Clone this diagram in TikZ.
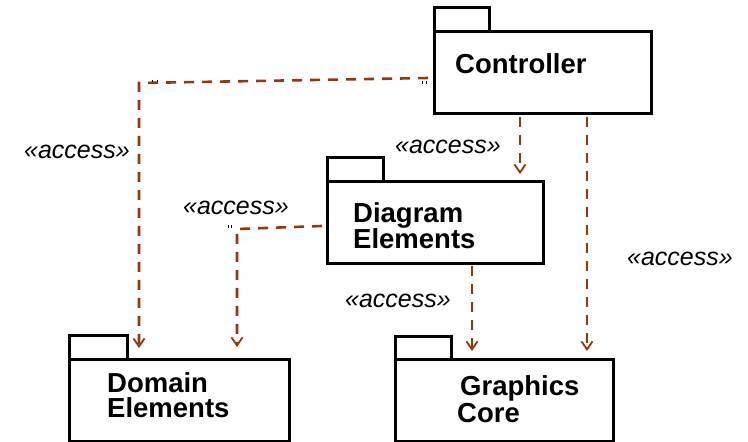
\documentclass[tikz,border=0pt]{standalone}
\usepackage{fontspec}
\setmainfont{Liberation Sans}
\usetikzlibrary{arrows.meta}
\definecolor{depcol}{RGB}{158,52,6}
\tikzset{
  pkgbody/.style={draw=black, line width=3pt, fill=white, inner sep=0pt, anchor=north west, minimum height=82pt},
  pkgtab/.style={draw=black, line width=3pt, fill=white, inner sep=0pt, anchor=north west, minimum height=24pt},
  pkgname/.style={font=\fontsize{27.5}{28}\selectfont\bfseries, inner sep=0pt, anchor=base west},
  acclabel/.style={font=\fontsize{25}{26}\selectfont\itshape, inner sep=0pt, anchor=base},
  depline/.style={draw=depcol, line width=2.6pt, dash pattern=on 10pt off 8pt,
    -{Straight Barb[length=8pt,width=11pt,line width=1.8pt]}},
  tick/.style={draw=black, line width=0.9pt}
}
\begin{document}
\begin{tikzpicture}[x=1pt,y=-1pt]
\useasboundingbox (0,0) rectangle (748,442);
% packages
\node[pkgtab, minimum width=55pt] (ctrlTab) at (433,6) {};
\node[pkgbody, minimum width=217pt] (ctrl) at (433,30) {};
\node[pkgtab, minimum width=56pt] (diagTab) at (326,156) {};
\node[pkgbody, minimum width=216pt] (diag) at (326,180) {};
\node[pkgtab, minimum width=58pt] (domTab) at (68,334) {};
\node[pkgbody, minimum width=220pt] (dom) at (68,358) {};
\node[pkgtab, minimum width=56pt, minimum height=23pt] (gfxTab) at (394,335) {};
\node[pkgbody, minimum width=218pt] (gfx) at (394,358) {};
% names
\node[pkgname] (ctrlName) at (455,73) {Controller};
\node[pkgname] (diagName1) at (353,222) {Diagram};
\node[pkgname] (diagName2) at (353,248) {Elements};
\node[pkgname] (domName1) at (107,392) {Domain};
\node[pkgname] (domName2) at (107,417) {Elements};
\node[pkgname] (gfxName1) at (460,395) {Graphics};
\node[pkgname] (gfxName2) at (457,422) {Core};
% connector points
\coordinate (a1s) at (428,78);
\coordinate (a1c) at (139,83);
\coordinate (a1e) at (139,348);
\coordinate (a2s) at (520,117);
\coordinate (a2e) at (520,174);
\coordinate (a3s) at (587,117);
\coordinate (a3e) at (587,351);
\coordinate (a4s) at (322,226);
\coordinate (a4c) at (237,229);
\coordinate (a4e) at (237,347);
\coordinate (a5s) at (472,266);
\coordinate (a5e) at (472,351);
% connectors
\draw[depline] (a1s) -- (a1c) -- (a1e);
\draw[depline] (a2s) -- (a2e);
\draw[depline] (a3s) -- (a3e);
\draw[depline] (a4s) -- (a4c) -- (a4e);
\draw[depline] (a5s) -- (a5e);
% labels
\node[acclabel] (l1) at (77,158) {«access»};
\node[acclabel] (l2) at (448,153) {«access»};
\node[acclabel] (l3) at (236,214) {«access»};
\node[acclabel] (l4) at (398,307) {«access»};
\node[acclabel] (l5) at (680,265) {«access»};
% small marks
\draw[tick] (152,79.5) -- (152,81.5) (157,79.5) -- (157,81.5);
\draw[tick] (422,81) -- (422,84) (426,81) -- (426,84);
\draw[tick] (228,225) -- (228,228) (231.5,225) -- (231.5,228);
\end{tikzpicture}
\end{document}
